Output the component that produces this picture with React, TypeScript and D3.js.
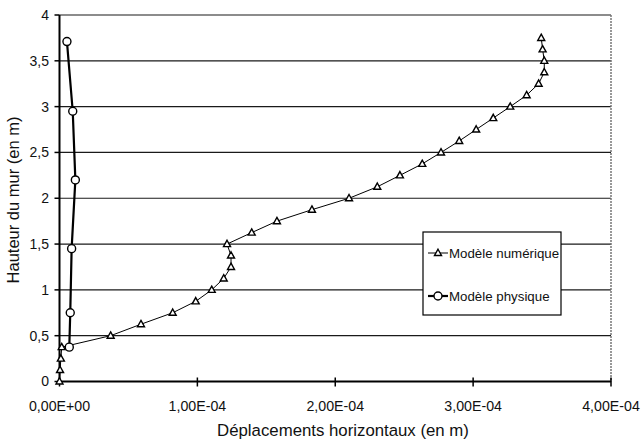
import React from "react";
import * as d3 from "d3";

const numHeights = [0, 0.125, 0.25, 0.375, 0.5, 0.625, 0.75, 0.875, 1.0, 1.125, 1.25, 1.375, 1.5, 1.625, 1.75, 1.875, 2.0, 2.125, 2.25, 2.375, 2.5, 2.625, 2.75, 2.875, 3.0, 3.125, 3.25, 3.375, 3.5, 3.625, 3.75];
const numDisp = [0, 0.004e-4, 0.01e-4, 0.016e-4, 0.371e-4, 0.591e-4, 0.821e-4, 0.988e-4, 1.104e-4, 1.191e-4, 1.244e-4, 1.244e-4, 1.215e-4, 1.394e-4, 1.577e-4, 1.831e-4, 2.1e-4, 2.305e-4, 2.469e-4, 2.631e-4, 2.767e-4, 2.899e-4, 3.022e-4, 3.146e-4, 3.269e-4, 3.388e-4, 3.475e-4, 3.516e-4, 3.516e-4, 3.504e-4, 3.494e-4];

const physHeights = [0.375, 0.75, 1.45, 2.2, 2.95, 3.71];
const physDisp = [0.071e-4, 0.078e-4, 0.088e-4, 0.115e-4, 0.096e-4, 0.054e-4];

const xTicks = [0, 1e-4, 2e-4, 3e-4, 4e-4];
const xTickLabels = ["0,00E+00", "1,00E-04", "2,00E-04", "3,00E-04", "4,00E-04"];
const yTicks = [0, 0.5, 1, 1.5, 2, 2.5, 3, 3.5, 4];
const yTickLabels = ["0", "0,5", "1", "1,5", "2", "2,5", "3", "3,5", "4"];

const seriesNames = ["Modèle numérique", "Modèle physique"];
const xTitle = "Déplacements horizontaux (en m)";
const yTitle = "Hauteur du mur (en m)";

const W = 643;
const H = 441;
const FONT = "'Liberation Sans', Arial, sans-serif";

function tri(cx: number, cy: number, s: number) {
  const h = s * 0.9;
  return `M${cx},${cy - h * 0.6}L${cx + s / 2},${cy + h * 0.4}L${cx - s / 2},${cy + h * 0.4}Z`;
}

export default function App() {
  const x = d3.scaleLinear().domain([0, 4e-4]).range([59.5, 611]);
  const y = d3.scaleLinear().domain([0, 4]).range([381.5, 15]);

  const numPts = numHeights.map((h, i) => [numDisp[i], h] as [number, number]);
  const physPts = physHeights.map((h, i) => [physDisp[i], h] as [number, number]);
  const line = d3
    .line<[number, number]>()
    .x((d) => x(d[0]))
    .y((d) => y(d[1]));

  const x0 = x(0);
  const x1 = x(4e-4);
  const yb = y(0);
  const yt = y(4);

  const lgX = 423;
  const lgY = 232;
  const lgW = 138;
  const lgH = 83;

  return (
    <svg
      width={W}
      height={H}
      style={{ position: "fixed", left: 0, top: 0, background: "#fff" }}
      fontFamily={FONT}
    >
      <rect x={0} y={0} width={W} height={H} fill="#fff" />
      {/* gridlines */}
      {yTicks.map((t) => (
        <line key={"g" + t} x1={x0} x2={x1} y1={y(t)} y2={y(t)} stroke="#1a1a1a" strokeWidth={1.2} />
      ))}
      {/* right border */}
      <line x1={x1} x2={x1} y1={yt} y2={yb} stroke="#777" strokeWidth={1.5} strokeDasharray="2,1" />
      {/* axes */}
      <line x1={x0} x2={x0} y1={yt} y2={yb} stroke="#000" strokeWidth={2} />
      <line x1={x0} x2={x1} y1={yb} y2={yb} stroke="#000" strokeWidth={2.2} />
      {yTicks.map((t) => (
        <line key={"yt" + t} x1={x0 - 5} x2={x0} y1={y(t)} y2={y(t)} stroke="#000" strokeWidth={1.5} />
      ))}
      {xTicks.map((t) => (
        <line key={"xt" + t} x1={x(t)} x2={x(t)} y1={yb - 4} y2={yb + 5} stroke="#000" strokeWidth={1.5} />
      ))}
      {/* tick labels */}
      {yTicks.map((t, i) => (
        <text key={"yl" + t} x={49} y={y(t)} dy="0.35em" textAnchor="end" fontSize={14} fill="#111">
          {yTickLabels[i]}
        </text>
      ))}
      {xTicks.map((t, i) => (
        <text key={"xl" + t} x={x(t)} y={411} textAnchor="middle" fontSize={14.2} fill="#111">
          {xTickLabels[i]}
        </text>
      ))}
      <text x={343} y={436} textAnchor="middle" fontSize={16.8} fill="#111">
        {xTitle}
      </text>
      <text
        transform={`translate(19,200) rotate(-90)`}
        textAnchor="middle"
        fontSize={16.5}
        fill="#111"
      >
        {yTitle}
      </text>
      {/* series */}
      <path d={line(numPts) || ""} fill="none" stroke="#000" strokeWidth={1} />
      <path d={line(physPts) || ""} fill="none" stroke="#000" strokeWidth={2.2} />
      {numPts.map((d, i) => (
        <path key={"nt" + i} d={tri(x(d[0]), y(d[1]), 7)} fill="#fff" stroke="#000" strokeWidth={1.4} />
      ))}
      {physPts.map((d, i) => (
        <circle key={"pc" + i} cx={x(d[0])} cy={y(d[1])} r={4} fill="#fff" stroke="#000" strokeWidth={1.4} />
      ))}
      {/* legend */}
      <rect x={lgX} y={lgY} width={lgW} height={lgH} fill="#fff" stroke="#000" strokeWidth={1.2} />
      <line x1={lgX + 5} x2={lgX + 25} y1={lgY + 21} y2={lgY + 21} stroke="#000" strokeWidth={1} />
      <path d={tri(lgX + 15, lgY + 21, 7)} fill="#fff" stroke="#000" strokeWidth={1.4} />
      <text x={lgX + 26} y={lgY + 21} dy="0.35em" fontSize={13.3} fill="#111">
        {seriesNames[0]}
      </text>
      <line x1={lgX + 5} x2={lgX + 25} y1={lgY + 64} y2={lgY + 64} stroke="#000" strokeWidth={2.2} />
      <circle cx={lgX + 15} cy={lgY + 64} r={4} fill="#fff" stroke="#000" strokeWidth={1.4} />
      <text x={lgX + 26} y={lgY + 64} dy="0.35em" fontSize={13.3} fill="#111">
        {seriesNames[1]}
      </text>
    </svg>
  );
}
